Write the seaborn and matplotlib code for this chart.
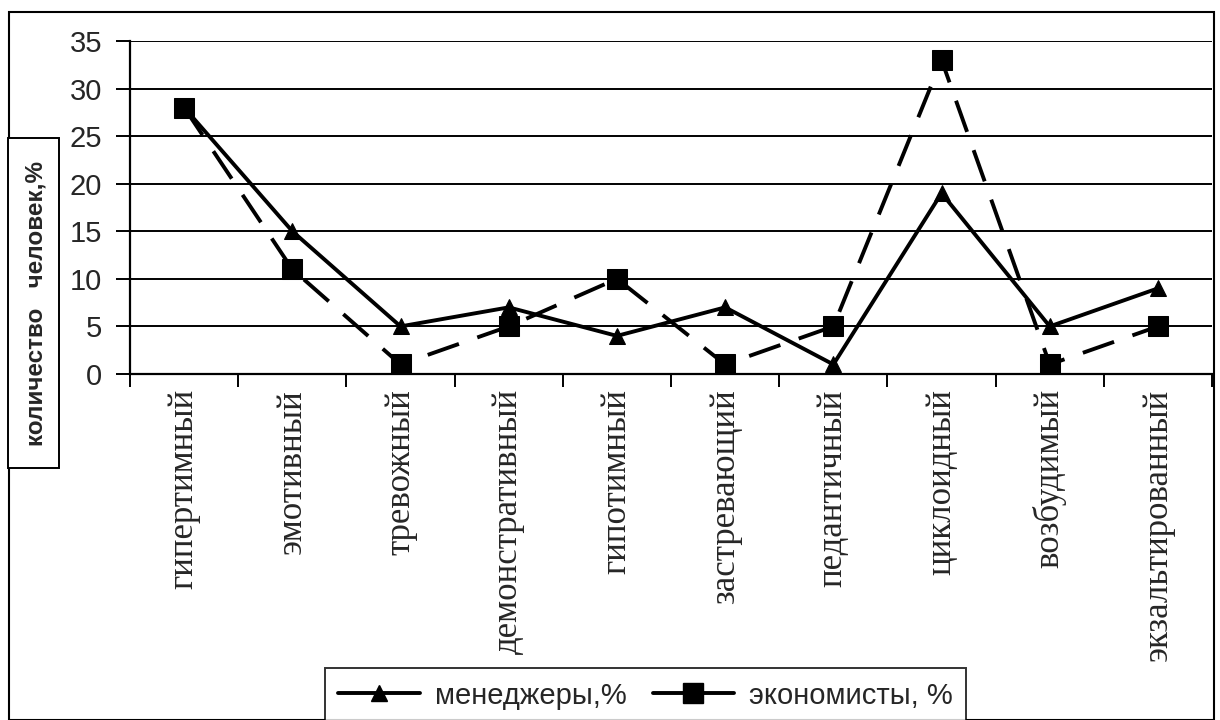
import numpy as np
import pandas as pd
import matplotlib
matplotlib.use("Agg")
import matplotlib.pyplot as plt
import seaborn as sns
from matplotlib.patches import Rectangle
from matplotlib.lines import Line2D

# данные
types = ["гипертимный", "эмотивный", "тревожный", "демонстративный", "гипотимный",
         "застревающий", "педантичный", "циклоидный", "возбудимый", "экзальтированный"]
managers = [28, 15, 5, 7, 4, 7, 1, 19, 5, 9]
economists = [28, 11, 1, 5, 10, 1, 5, 33, 1, 5]
yticks = [0, 5, 10, 15, 20, 25, 30, 35]

sns.set_style("white")
plt.rcParams["font.family"] = ["Liberation Sans", "DejaVu Sans"]

df = pd.DataFrame({"pos": np.arange(len(types)), "m": managers, "e": economists})

fig = plt.figure(figsize=(12.2, 7.2), dpi=100)
ax = fig.add_axes([0.1066, 0.4806, 0.8869, 0.4625])

# рамка вокруг всей диаграммы
fig.patches.append(Rectangle((0.007, 0.0), 0.988, 0.983, transform=fig.transFigure,
                             fill=False, edgecolor="black", linewidth=1.5, zorder=0))

LW = 2.8
sns.lineplot(data=df, x="pos", y="m", ax=ax, color="black", linewidth=LW,
             marker="^", markersize=11, markeredgecolor="black", zorder=3)
sns.lineplot(data=df, x="pos", y="e", ax=ax, color="black", linewidth=LW,
             marker="s", markersize=15, markeredgecolor="black", zorder=4,
             dashes=False, linestyle=(0, (8.5, 5)))

ax.set_xlim(-0.5, len(types) - 0.5)
ax.set_ylim(0, 35)
ax.set_yticks(yticks)
ax.yaxis.grid(True, color="black", linewidth=1.4)
ax.set_axisbelow(True)
for s in ["top", "right"]:
    ax.spines[s].set_visible(False)
for s in ["left", "bottom"]:
    ax.spines[s].set_color("black")
    ax.spines[s].set_linewidth(1.6)

ax.tick_params(axis="y", direction="out", length=10, width=1.4, color="black",
               labelsize=21, pad=10, left=True)
ax.set_xticks(np.arange(len(types)))
ax.set_xticklabels(types, rotation=90, fontfamily=["Liberation Serif", "DejaVu Serif"],
                   fontsize=25, va="top")
ax.tick_params(axis="x", which="major", length=0, pad=11, bottom=True)
ax.set_xticks(np.arange(-0.5, len(types)), minor=True)
ax.tick_params(axis="x", which="minor", direction="out", length=9, width=1.4,
               color="black", bottom=True)
ax.set_xlabel("")
ax.set_ylabel("")

# подпись оси Y в рамке
fig.patches.append(Rectangle((0.0066, 0.35), 0.0418, 0.4583, transform=fig.transFigure,
                             facecolor="white", edgecolor="black", linewidth=1.4, zorder=1))
fig.text(0.0295, 0.579, "количество   человек,%", rotation=90, ha="center", va="center",
         fontsize=17.5, fontweight="bold", zorder=2)

handles = [Line2D([], [], color="black", linewidth=LW, marker="^", markersize=11),
           Line2D([], [], color="black", linewidth=LW, marker="s", markersize=15)]
leg = fig.legend(handles, ["менеджеры,%", "экономисты, %"], loc="lower center",
                 bbox_to_anchor=(0.529, -0.024), ncol=2, fontsize=21, frameon=True,
                 fancybox=False, edgecolor="black", handlelength=2.8, handletextpad=0.5,
                 columnspacing=0.9, borderpad=0.45)
leg.get_frame().set_linewidth(1.4)

fig.savefig("out.png", dpi=100)
